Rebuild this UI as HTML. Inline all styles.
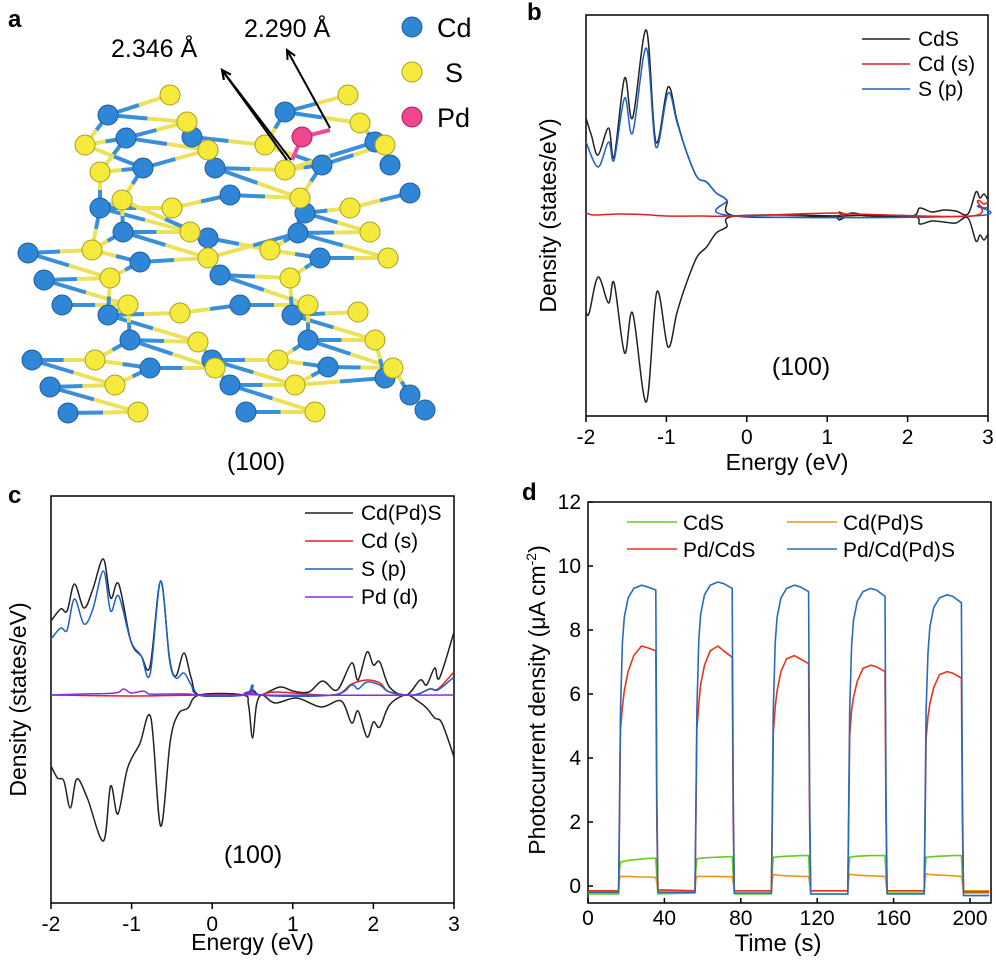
<!DOCTYPE html>
<html><head><meta charset="utf-8">
<style>
html,body{margin:0;padding:0;background:#fff;}
svg{display:block;font-family:"Liberation Sans",Arial,sans-serif;}
</style></head>
<body>
<svg id="fig" width="996" height="962" viewBox="0 0 996 962" xmlns="http://www.w3.org/2000/svg">
<g id="panelA"></g>
<g id="panelB"></g>
<g id="panelC"></g>
<g id="panelD"></g>
</svg>
<script>
// ---------- Panel b data (energy eV, DOS arbitrary units) ----------
const bCdSUpE = [-2.0,-1.93,-1.85,-1.72,-1.65,-1.52,-1.42,-1.25,-1.13,-0.98,-0.87,-0.75,-0.62,-0.5,-0.38,-0.25,-0.14,1.1,1.15,1.2,1.3,1.4,1.5,2.05,2.15,2.3,2.45,2.6,2.75,2.85,2.9,2.95,3.0];
const bCdSUpV = [9.8,8.0,6.1,8.8,5.9,13.8,9.8,18.6,7.4,12.9,9.6,6.4,3.9,3.4,2.3,1.6,0,0,0.4,0,0.3,0.2,0,0,0.8,0.4,0.6,0.5,0.2,2.4,1.8,2.2,1.6];
const bCdSDnE = [-2.0,-1.96,-1.85,-1.72,-1.65,-1.52,-1.42,-1.25,-1.12,-0.98,-0.87,-0.75,-0.62,-0.5,-0.38,-0.25,-0.14,1.1,1.15,1.2,2.05,2.15,2.3,2.45,2.6,2.75,2.85,2.9,2.95,3.0];
const bCdSDnV = [-9.6,-9.7,-6.1,-8.7,-6.7,-13.7,-9.7,-18.6,-7.6,-13.1,-9.7,-6.7,-4.1,-3.1,-1.7,-1.1,0,0,-0.4,0,0,-0.8,-0.5,-0.6,-0.7,-0.2,-2.5,-1.9,-2.4,-1.8];
const bSpE = [-2.0,-1.85,-1.72,-1.65,-1.52,-1.42,-1.25,-1.13,-0.98,-0.87,-0.75,-0.62,-0.5,-0.38,-0.25,-0.14,2.8,2.87,2.95,3.0];
const bSpV = [7.4,4.9,7.4,5.6,11.8,8.3,16.8,6.9,12.3,9.4,6.4,3.9,3.4,2.3,1.6,0,0,1.0,0.8,0.9];
const bCdsE = [-2.0,-1.9,-1.6,-1.3,-1.0,-0.6,-0.14,1.1,1.2,1.3,2.8,2.87,2.95,3.0];
const bCdsV = [0.3,0.1,0.2,0.15,0,0,0,0.3,0,0.2,0,1.5,1.2,1.4];
// ---------- Panel c data ----------
const cTotUpE = [-2.0,-1.88,-1.8,-1.71,-1.59,-1.48,-1.35,-1.26,-1.16,-1.01,-0.88,-0.77,-0.64,-0.53,-0.45,-0.35,-0.26,-0.16,0.3,0.4,0.5,0.6,0.84,1.0,1.2,1.37,1.55,1.73,1.81,1.92,2.0,2.08,2.2,2.41,2.58,2.66,2.76,2.82,3.0];
const cTotUpV = [7.4,8.6,8.4,11.1,8.7,10.6,13.6,9.7,11.1,5.4,3.9,2.9,11.4,3.7,1.9,4.2,1.7,0,0,0,0.5,0,0.8,0.4,0.3,1.4,0.5,3.2,1.5,4.3,3.0,3.3,0.8,0,1.5,1.0,2.7,1.7,6.3];
const cTotDnE = [-2.0,-1.92,-1.84,-1.76,-1.68,-1.55,-1.35,-1.26,-1.17,-1.05,-0.9,-0.76,-0.64,-0.52,-0.42,-0.3,-0.16,0.38,0.45,0.5,0.55,0.62,0.78,1.05,1.35,1.6,1.73,1.81,1.92,2.0,2.08,2.2,2.4,2.55,2.66,2.76,2.85,3.0];
const cTotDnV = [-7.1,-8.3,-8.6,-11.3,-8.4,-10.3,-14.6,-9.1,-11.9,-7.3,-4.9,-2.3,-13.1,-4.6,-1.9,-1.3,0,0,-1.0,-4.3,-1.0,0,-0.8,-0.3,-1.2,-0.6,-2.8,-1.6,-4.2,-2.7,-3.2,-1.0,0,-0.6,-1.3,-2.3,-2.8,-6.2];
const cSpE = [-2.0,-1.88,-1.8,-1.71,-1.59,-1.48,-1.35,-1.26,-1.16,-1.01,-0.88,-0.77,-0.64,-0.53,-0.45,-0.35,-0.26,-0.16,0.4,0.5,0.6,1.5,1.73,1.81,1.92,2.08,2.2,2.5,2.7,2.8,3.0];
const cSpV = [5.6,6.7,6.5,9.6,7.1,8.6,12.4,8.4,9.9,5.4,3.9,2.1,11.4,3.5,1.7,2.2,1.0,0,0,1.0,0,0,1.0,0.6,1.3,1.0,0.3,0,0.6,0.5,1.8];
const cCdsE = [-2.0,-1.0,-0.16,0.4,0.5,0.6,0.8,1.5,1.73,1.92,2.08,2.2,2.5,2.7,2.8,3.0];
const cCdsV = [0,-0.1,0,0,0.2,0,0.3,0,1.1,1.5,1.2,0.3,0,0.6,0.6,2.3];
const cPddE = [-2.0,-1.6,-1.2,-1.1,-1.0,-0.85,-0.78,-0.6,-0.3,-0.16,0.4,0.5,0.6,3.0];
const cPddV = [0,0.1,0.2,0.6,0.2,0.4,0.1,0.1,0.1,0,0,0.4,0,0];
// ---------- Panel d data (time s, current uA cm-2) ----------
const dCycleStart = [16,56,96,136,176];
const dOffsets = [0,0.5,1,2,3,5,8,12,15,19.5,20,20.6];
const dBlue = [
 [-0.2,2.5,5.5,7.6,8.4,9.0,9.3,9.4,9.35,9.25,3,-0.2],
 [-0.2,2.5,5.5,7.7,8.5,9.1,9.4,9.5,9.45,9.3,3,-0.22],
 [-0.22,2.5,5.5,7.6,8.4,9.0,9.3,9.4,9.35,9.2,3,-0.25],
 [-0.25,2.5,5.5,7.5,8.3,8.9,9.2,9.3,9.25,9.05,3,-0.25],
 [-0.25,2.5,5.5,7.3,8.1,8.7,9.0,9.1,9.05,8.85,3,-0.3]];
const dRed = [
 [-0.15,2,4.9,5.6,6.1,6.7,7.2,7.5,7.45,7.35,2,-0.12],
 [-0.15,2,4.9,5.7,6.3,6.9,7.35,7.5,7.35,7.15,2,-0.15],
 [-0.15,2,4.8,5.6,6.1,6.7,7.1,7.2,7.1,6.95,2,-0.15],
 [-0.15,2,4.7,5.5,5.9,6.4,6.8,6.9,6.85,6.7,2,-0.15],
 [-0.15,2,4.6,5.3,5.7,6.2,6.6,6.7,6.65,6.5,2,-0.18]];
const dGreen = [
 [-0.25,0.5,0.75,0.76,0.78,0.8,0.82,0.84,0.86,0.87,0.3,-0.25],
 [-0.22,0.5,0.85,0.86,0.87,0.88,0.89,0.9,0.91,0.92,0.3,-0.25],
 [-0.25,0.5,0.9,0.9,0.91,0.92,0.93,0.94,0.95,0.95,0.3,-0.25],
 [-0.25,0.5,0.9,0.91,0.92,0.93,0.94,0.95,0.95,0.95,0.3,-0.22],
 [-0.22,0.5,0.9,0.9,0.91,0.92,0.93,0.94,0.95,0.95,0.3,-0.22]];
const dOrange = [
 [-0.15,0.2,0.3,0.3,0.3,0.3,0.29,0.28,0.28,0.27,0.1,-0.15],
 [-0.15,0.2,0.3,0.3,0.3,0.3,0.3,0.3,0.29,0.29,0.1,-0.15],
 [-0.15,0.2,0.36,0.35,0.34,0.33,0.32,0.31,0.3,0.3,0.1,-0.15],
 [-0.15,0.2,0.37,0.36,0.35,0.34,0.33,0.32,0.31,0.3,0.1,-0.15],
 [-0.15,0.2,0.38,0.37,0.36,0.35,0.34,0.33,0.32,0.3,0.1,-0.15]];
const dXTicks = [0,40,80,120,160,200];
const dYTicks = [0,2,4,6,8,10,12];
const eTicks = [-2,-1,0,1,2,3];
// ---------- Panel a atoms ----------
const cdAtoms = [[108,115],[126,138],[143,168],[100,208],[123,232],[140,262],[28,253],[44,280],[62,305],[108,315],[130,340],[150,368],[32,360],[50,387],[68,413],[192,137],[215,168],[230,195],[208,238],[220,275],[240,305],[212,360],[230,385],[246,412],[285,112],[322,165],[305,213],[298,233],[320,258],[292,315],[308,340],[328,367],[375,142],[390,165],[410,193],[385,378],[410,395],[425,410]];
const sAtoms = [[170,95],[187,122],[85,145],[100,172],[208,150],[265,145],[285,170],[122,200],[172,208],[190,232],[300,198],[208,258],[92,250],[110,278],[128,305],[180,313],[198,342],[270,250],[290,278],[308,305],[348,95],[360,123],[385,145],[350,208],[370,232],[388,258],[95,360],[115,385],[138,412],[215,368],[278,360],[295,385],[315,412],[358,312],[375,340],[393,368]];
const pdAtoms = [[302,137]];

const NS = "http://www.w3.org/2000/svg";
function mk(parent, tag, attrs, text){
  const e = document.createElementNS(NS, tag);
  for (const k in attrs) e.setAttribute(k, attrs[k]);
  if (text !== undefined) e.textContent = text;
  parent.appendChild(e);
  return e;
}
function smoothPath(pts){
  let d = 'M'+pts[0][0].toFixed(1)+','+pts[0][1].toFixed(1);
  for (let i=0;i<pts.length-1;i++){
    const p0=pts[Math.max(0,i-1)], p1=pts[i], p2=pts[i+1], p3=pts[Math.min(pts.length-1,i+2)];
    const c1=[p1[0]+(p2[0]-p0[0])/6, p1[1]+(p2[1]-p0[1])/6];
    const c2=[p2[0]-(p3[0]-p1[0])/6, p2[1]-(p3[1]-p1[1])/6];
    d+=' C'+c1[0].toFixed(1)+','+c1[1].toFixed(1)+' '+c2[0].toFixed(1)+','+c2[1].toFixed(1)+' '+p2[0].toFixed(1)+','+p2[1].toFixed(1);
  }
  return d;
}

// ===== Panel A =====
(function(){
  const g = document.getElementById('panelA');
  const all = cdAtoms.map(p=>({p, c:'#2f86d6'})).concat(sAtoms.map(p=>({p, c:'#f2e641'})));
  for (let i=0;i<all.length;i++) for (let j=i+1;j<all.length;j++){
    const a=all[i], b=all[j];
    if (a.c===b.c) continue;
    const dx=a.p[0]-b.p[0], dy=a.p[1]-b.p[1], d=Math.hypot(dx,dy);
    const horiz = Math.abs(dy) < Math.abs(dx)*0.45;
    if (d<44 || (horiz && d<95)){
      const mx=(a.p[0]+b.p[0])/2, my=(a.p[1]+b.p[1])/2;
      const l1 = mk(g,'line',{x1:a.p[0],y1:a.p[1],x2:mx,y2:my,stroke:a.c==='#2f86d6'?'#3a8fd8':'#ece25a','stroke-width':4});
      
      
      const l2 = mk(g,'line',{x1:mx,y1:my,x2:b.p[0],y2:b.p[1],stroke:b.c==='#2f86d6'?'#3a8fd8':'#ece25a','stroke-width':4});
      
      
    }
  }
  const pb = mk(g,'line',{x1:302,y1:137,x2:330,y2:130,stroke:'#ee4aa0','stroke-width':4});
  
  
  const pb2 = mk(g,'line',{x1:302,y1:137,x2:292,y2:160,stroke:'#ee4aa0','stroke-width':4});
  
  
  cdAtoms.forEach(p=>{
    const c = mk(g,'circle',{cx:p[0],cy:p[1],r:10,fill:'#2f86d6',stroke:'#1f5f9a','stroke-width':1});
    
    
  });
  sAtoms.forEach(p=>{
    const c = mk(g,'circle',{cx:p[0],cy:p[1],r:10,fill:'#f5ea3c',stroke:'#a89f20','stroke-width':1});
    
    
  });
  pdAtoms.forEach(p=>{
    const c = mk(g,'circle',{cx:p[0],cy:p[1],r:10,fill:'#f0468f',stroke:'#a02060','stroke-width':1});
    
    
  });
  const ar = [[287,160,222,70],[291,160,222,70],[330,128,287,50]];
  ar.forEach(a=>{
    const l = mk(g,'line',{x1:a[0],y1:a[1],x2:a[2],y2:a[3],stroke:'#000','stroke-width':2});
    
    
    const ang=Math.atan2(a[3]-a[1],a[2]-a[0]);
    const h=10, w=0.45;
    const p1=[a[2]-h*Math.cos(ang-w),a[3]-h*Math.sin(ang-w)], p2=[a[2]-h*Math.cos(ang+w),a[3]-h*Math.sin(ang+w)];
    const pl = mk(g,'polyline',{points:`${p1} ${a[2]},${a[3]} ${p2}`,fill:'none',stroke:'#000','stroke-width':2});
    
    
  });
  const t1 = mk(g,'text',{x:111,y:57,'font-size':25,fill:'#000'},'2.346 Å');
  
  
  const t2 = mk(g,'text',{x:244,y:37,'font-size':25,fill:'#000'},'2.290 Å');
  
  
  const leg=[['Cd','#2f86d6',27,'#1f5f9a'],['S','#f5ea3c',72,'#a89f20'],['Pd','#f0468f',117,'#a02060']];
  leg.forEach(l=>{
    const c = mk(g,'circle',{cx:412,cy:l[2],r:10,fill:l[1],stroke:l[3],'stroke-width':1});
    
    
    const t = mk(g,'text',{x:l[0]==='S'?445:437,y:l[2]+10,'font-size':27,fill:'#000'},l[0]);
    
    
  });
  const lab = mk(g,'text',{x:8,y:27,'font-size':24,'font-weight':'bold'},'a');
  
  
  const f = mk(g,'text',{x:256,y:470,'font-size':25,'text-anchor':'middle'},'(100)');
  
  
})();

// ===== DOS panel helper =====
function dosPanel(gid, L, R, T, B, Z, unit, series, legend, legX, legY, legDy, labelTxt, labX, labY, facetX, facetY, ytitleX, xtitleY){
  const g = document.getElementById(gid);
  const xs = e => L + (e+2)/5*(R-L);
  const ys = v => Z - v*unit;
  const fr = mk(g,'rect',{x:L,y:T,width:R-L,height:B-T,fill:'none',stroke:'#000','stroke-width':1.5});
  
  
  eTicks.forEach(t=>{
    const tk = mk(g,'line',{x1:xs(t),y1:B,x2:xs(t),y2:B+6,stroke:'#000','stroke-width':1.5});
    
    
    const tl = mk(g,'text',{x:xs(t),y:B+28,'font-size':21,'text-anchor':'middle'},String(t));
    
    
  });
  const xt = mk(g,'text',{x:(L+R)/2,y:xtitleY,'font-size':23,'text-anchor':'middle'},'Energy (eV)');
  
  
  const yc=(T+B)/2;
  const yt = mk(g,'text',{x:ytitleX,y:yc,'font-size':23,'text-anchor':'middle',transform:`rotate(-90 ${ytitleX} ${yc})`},'Density (states/eV)');
  
  
  series.forEach(s=>{
    const pts = s.E.map((e,i)=>[xs(e), ys(s.V[i])]);
    const pl = mk(g,'path',{d:smoothPath(pts),fill:'none',stroke:s.c,'stroke-width':1.5,'stroke-linejoin':'round'});
    
    
  });
  legend.forEach((l,i)=>{
    const y = legY + i*legDy;
    const ll = mk(g,'line',{x1:legX,y1:y,x2:legX+48,y2:y,stroke:l[1],'stroke-width':1.5});
    
    
    const lt = mk(g,'text',{x:legX+56,y:y+7,'font-size':21},l[0]);
    
    
  });
  const pl = mk(g,'text',{x:labX,y:labY,'font-size':24,'font-weight':'bold'},labelTxt);
  
  
  const ft = mk(g,'text',{x:facetX,y:facetY,'font-size':25,'text-anchor':'middle'},'(100)');
  
  
}
dosPanel('panelB',586,988,15,416,216,10,[
  {E:bCdSUpE,V:bCdSUpV,c:'#222',n:'cds-total-up'},
  {E:bCdSDnE,V:bCdSDnV,c:'#222',n:'cds-total-down'},
  {E:bSpE,V:bSpV,c:'#1f5fc8',n:'s-p-line'},
  {E:bCdsE,V:bCdsV,c:'#e02020',n:'cd-s-line'}],
  [['CdS','#222'],['Cd (s)','#e02020'],['S (p)','#1f5fc8']], 862,39,25,'b',527,20,801,375,556,470);
dosPanel('panelC',51,454,496,903,695,10,[
  {E:cTotUpE,V:cTotUpV,c:'#222',n:'cdpds-total-up'},
  {E:cTotDnE,V:cTotDnV,c:'#222',n:'cdpds-total-down'},
  {E:cCdsE,V:cCdsV,c:'#e02020',n:'cd-s-line'},
  {E:cSpE,V:cSpV,c:'#1f5fc8',n:'s-p-line'},
  {E:cPddE,V:cPddV,c:'#8a2be2',n:'pd-d-line'}],
  [['Cd(Pd)S','#222'],['Cd (s)','#e02020'],['S (p)','#1f5fc8'],['Pd (d)','#8a2be2']], 305,513,28,'c',8,503,253,863,26,950);

// ===== Panel D =====
(function(){
  const g = document.getElementById('panelD');
  const L=588,R=991,T=502,B=903;
  const xs = t => 588 + t*(970-588)/200;
  const ys = v => 886 - v*32;
  const fr = mk(g,'rect',{x:L,y:T,width:R-L,height:B-T,fill:'none',stroke:'#000','stroke-width':1.5});
  
  
  dXTicks.forEach(t=>{
    const tk = mk(g,'line',{x1:xs(t),y1:B,x2:xs(t),y2:B-5,stroke:'#000','stroke-width':1.5});
    
    
    const tl = mk(g,'text',{x:xs(t),y:925,'font-size':21,'text-anchor':'middle'},String(t));
    
    
  });
  dYTicks.forEach(v=>{
    const tk = mk(g,'line',{x1:L,y1:ys(v),x2:L+5,y2:ys(v),stroke:'#000','stroke-width':1.5});
    
    
    const tl = mk(g,'text',{x:581,y:ys(v)+7,'font-size':21,'text-anchor':'end'},String(v));
    
    
  });
  const xt = mk(g,'text',{x:778,y:951,'font-size':24,'text-anchor':'middle'},'Time (s)');
  
  
  const yt = mk(g,'text',{x:545,y:700,'font-size':23,'text-anchor':'middle',transform:'rotate(-90 545 700)'});
  
  
  yt.appendChild(document.createTextNode('Photocurrent density (μA cm'));
  mk(yt,'tspan',{'font-size':14,dy:-9},'-2');
  mk(yt,'tspan',{dy:9},')');
  function draw(cycles, col, name){
    const pts=[[0,cycles[0][0]]];
    cycles.forEach((vals,ci)=>{
      dOffsets.forEach((o,k)=>pts.push([dCycleStart[ci]+o, vals[k]]));
    });
    pts.push([210, cycles[cycles.length-1][11]]);
    const s = pts.map(p=>xs(p[0]).toFixed(1)+','+ys(p[1]).toFixed(1)).join(' ');
    const pl = mk(g,'polyline',{points:s,fill:'none',stroke:col,'stroke-width':1.6,'stroke-linejoin':'round'});
    
    
  }
  draw(dGreen,'#66cc22','series-cds');
  draw(dOrange,'#e8961c','series-cdpds');
  draw(dRed,'#e8341c','series-pd-cds');
  draw(dBlue,'#2a6ab8','series-pd-cdpds');
  const leg=[['CdS','#66cc22',627,522],['Cd(Pd)S','#e8961c',787,522],['Pd/CdS','#e8341c',627,549],['Pd/Cd(Pd)S','#2a6ab8',787,549]];
  leg.forEach(l=>{
    const ll = mk(g,'line',{x1:l[2],y1:l[3],x2:l[2]+50,y2:l[3],stroke:l[1],'stroke-width':1.6});
    
    
    const lt = mk(g,'text',{x:l[2]+56,y:l[3]+8,'font-size':21},l[0]);
    
    
  });
  const pl = mk(g,'text',{x:522,y:500,'font-size':24,'font-weight':'bold'},'d');
  
  
})();
</script>
</body></html>
